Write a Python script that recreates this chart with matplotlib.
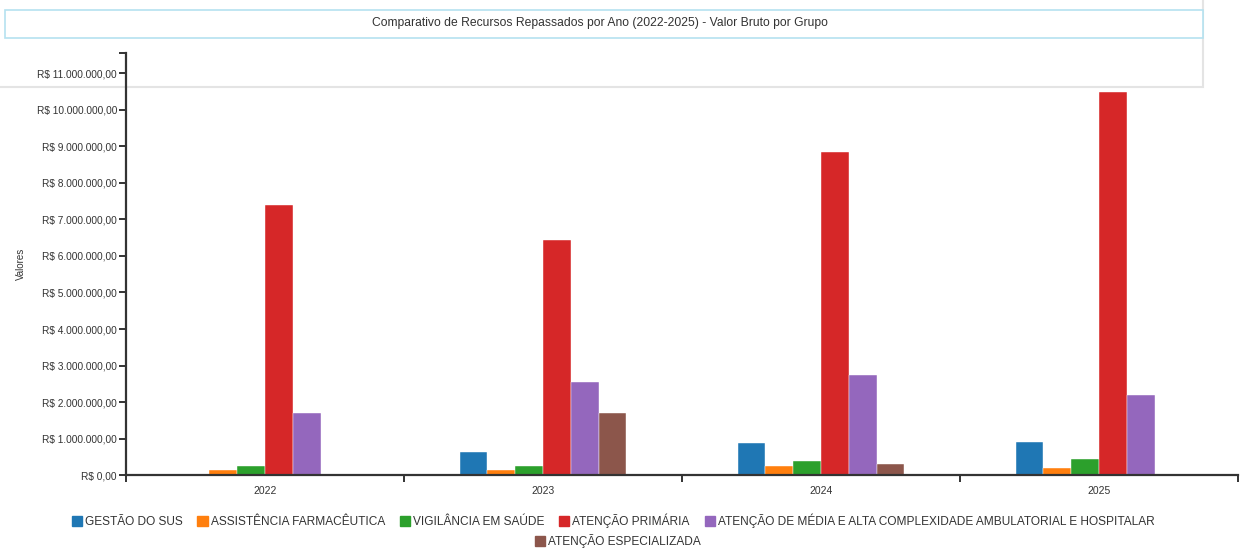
import matplotlib.pyplot as plt
from matplotlib.patches import Patch, Rectangle
from matplotlib.ticker import FuncFormatter, FixedLocator
import numpy as np

plt.rcParams['font.family'] = ['Liberation Sans', 'DejaVu Sans']

# region DATA
anos = ["2022", "2023", "2024", "2025"]
grupos = ["GESTÃO DO SUS", "ASSISTÊNCIA FARMACÊUTICA", "VIGILÂNCIA EM SAÚDE",
          "ATENÇÃO PRIMÁRIA", "ATENÇÃO DE MÉDIA E ALTA COMPLEXIDADE AMBULATORIAL E HOSPITALAR",
          "ATENÇÃO ESPECIALIZADA"]
gestao = [0, 630000, 875000, 920000]
farmaceutica = [145000, 145000, 260000, 200000]
vigilancia = [260000, 260000, 380000, 440000]
primaria = [7400000, 6430000, 8850000, 10480000]
media_alta = [1710000, 2560000, 2730000, 2200000]
especializada = [0, 1710000, 320000, 0]
cores = ["#1f77b4", "#ff7f0e", "#2ca02c", "#d62728", "#9467bd", "#8c564b"]
# endregion


def brl(v, pos=None):
    s = f"{v:,.2f}".replace(",", "X").replace(".", ",").replace("X", ".")
    return f"R$ {s}"


W, H = 1247, 548
fig = plt.figure(figsize=(W / 100, H / 100), dpi=100)

# page panel / title box (screenshot frame)
fig.add_artist(Rectangle((-10 / W, 1 - 87 / H), 1213 / W, 100 / H, transform=fig.transFigure,
                         facecolor="white", edgecolor="#e4e4e4", linewidth=1.5, zorder=0))
fig.add_artist(Rectangle((5 / W, 1 - 38 / H), 1198 / W, 28 / H, transform=fig.transFigure,
                         facecolor="white", edgecolor="#b5e2f0", linewidth=1.2, zorder=0))
fig.text(600 / W, 1 - 23 / H,
         "Comparativo de Recursos Repassados por Ano (2022-2025) - Valor Bruto por Grupo",
         ha="center", va="center", fontsize=8.7, color="#333333")

ax = fig.add_axes([126 / W, 72.7 / H, (1238 - 126) / W, (475.3 - 53) / H])
ax.patch.set_alpha(0)

series = [gestao, farmaceutica, vigilancia, primaria, media_alta, especializada]
x = np.arange(len(anos))
bw = 0.1
for i, (vals, nome, cor) in enumerate(zip(series, grupos, cores)):
    ax.bar(x + (i - 2.5) * bw, vals, width=bw, color=cor, label=nome,
           edgecolor="white", linewidth=0.3, zorder=2)

ymax = 11550000
ax.set_xlim(-0.5, 3.5)
ax.set_ylim(0, ymax)

ax.yaxis.set_major_locator(FixedLocator([i * 1000000 for i in range(12)]))
ax.yaxis.set_major_formatter(FuncFormatter(brl))
ax.yaxis.set_minor_locator(FixedLocator([ymax]))
ax.tick_params(axis="y", which="major", labelsize=7.3, length=5, width=1.4,
               color="#333333", labelcolor="#333333", pad=1.5)
ax.tick_params(axis="y", which="minor", length=5, width=1.4, color="#333333")

ax.set_xticks(x)
ax.set_xticklabels(anos)
ax.set_xticks([-0.5, 0.5, 1.5, 2.5, 3.5], minor=True)
ax.tick_params(axis="x", which="major", length=0, labelsize=7.5, labelcolor="#333333", pad=8)
ax.tick_params(axis="x", which="minor", length=5, width=1.4, color="#333333")

for s in ["top", "right"]:
    ax.spines[s].set_visible(False)
for s in ["left", "bottom"]:
    ax.spines[s].set_color("#333333")
    ax.spines[s].set_linewidth(1.6)
    ax.spines[s].set_zorder(3)

ax.set_ylabel("Valores", fontsize=7, color="#333333")
ax.yaxis.set_label_coords(-0.090, 0.5)

# legend: first 5 in one row, last one centered below
handles = [Patch(facecolor=c, edgecolor=c) for c in cores]
kw = dict(loc="center", frameon=False, fontsize=8.6, handlelength=0.85, handleheight=0.95,
          handletextpad=0.25, columnspacing=1.25, borderpad=0)
fig.legend(handles[:5], grupos[:5], bbox_to_anchor=(613 / W, 1 - 521 / H), ncol=5, **kw)
fig.legend(handles[5:], grupos[5:], bbox_to_anchor=(618 / W, 1 - 541 / H), **kw)
for leg in fig.legends:
    for t in leg.get_texts():
        t.set_color("#333333")

plt.savefig("out.png", dpi=100)
